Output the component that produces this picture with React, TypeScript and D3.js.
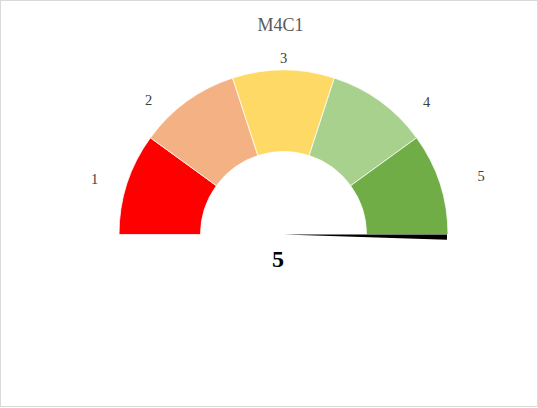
import React from 'react';
import * as d3 from 'd3';

// gauge bands (scale 0..5) and their colours
const bands = ['1', '2', '3', '4', '5'];
const bandValues = [1, 1, 1, 1, 1];
const bandColors = ['#FF0000', '#F4B183', '#FFD966', '#A9D18E', '#70AD47'];
// where Excel dropped the band labels: angle from left (deg) and distance from centre
const labelAngles = [16.4, 44.8, 90, 137.2, 163.7];
const labelRadii = [197, 190, 176, 195, 206];
const title = 'M4C1';
const value = 5;
const pointerWidth = 0.05;

const W = 538;
const H = 408;
const cx = 283.5;
const cy = 234.5;
const outerR = 164.5;
const innerR = 83;

const App = () => {
  const total = d3.sum(bandValues);
  // value -> angle for d3.arc (0 at 12 o'clock, clockwise)
  const angle = d3.scaleLinear().domain([0, total]).range([-Math.PI / 2, Math.PI / 2]);

  const pie = d3
    .pie<number>()
    .sort(null)
    .value((d) => d)
    .startAngle(-Math.PI / 2)
    .endAngle(Math.PI / 2);
  const slices = pie(bandValues);

  const band = d3.arc<d3.PieArcDatum<number>>().innerRadius(innerR).outerRadius(outerR);

  const needle = d3.arc()({
    innerRadius: 0,
    outerRadius: outerR - 1,
    startAngle: angle(value),
    endAngle: angle(value + pointerWidth),
  }) as string;

  const deg = d3.scaleLinear().domain([0, 180]).range([Math.PI, 0]);

  return (
    <svg
      width={W}
      height={H}
      style={{ position: 'absolute', left: 0, top: 0, display: 'block', background: '#fff' }}
    >
      <rect x={0.5} y={0.5} width={W - 1} height={H - 2} fill="#fff" stroke="#D9D9D9" />
      <text
        x={280.5}
        y={31}
        textAnchor="middle"
        fontFamily="'Liberation Serif', 'Times New Roman', serif"
        fontSize={18}
        fill="#595959"
      >
        {title}
      </text>
      <g transform={`translate(${cx},${cy})`}>
        {slices.map((s, i) => (
          <path key={i} d={band(s) as string} fill={bandColors[i]} stroke="#fff" strokeWidth={0.75} />
        ))}
        {bands.map((b, i) => {
          const a = deg(labelAngles[i]);
          const r = labelRadii[i];
          return (
            <text
              key={b}
              x={r * Math.cos(a)}
              y={-r * Math.sin(a)}
              dy="0.33em"
              textAnchor="middle"
              fontFamily="'Liberation Serif', 'Times New Roman', serif"
              fontSize={14.5}
              fill="#404040"
            >
              {b}
            </text>
          );
        })}
        <path d={needle} fill="#000" />
        <text
          x={-5.5}
          y={32}
          textAnchor="middle"
          fontFamily="'Liberation Serif', 'Times New Roman', serif"
          fontWeight="bold"
          fontSize={24}
          fill="#000"
        >
          {value}
        </text>
      </g>
    </svg>
  );
};

export default App;
